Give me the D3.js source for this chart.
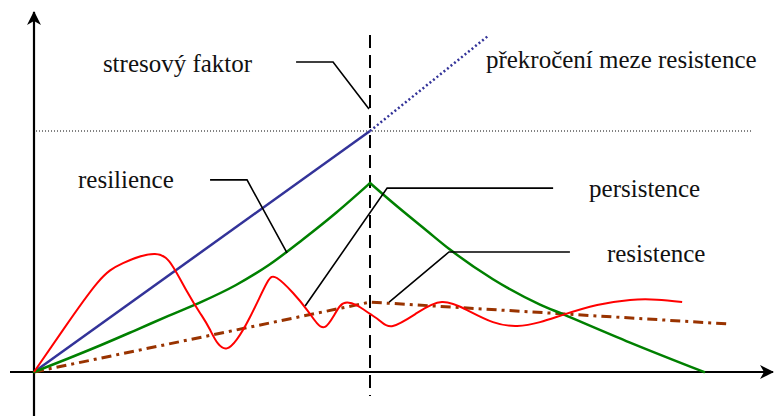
<!DOCTYPE html>
<html>
<head>
<meta charset="utf-8">
<script src="https://cdn.jsdelivr.net/npm/d3@7"></script>
<style>
  body { margin:0; background:#fff; }
</style>
</head>
<body>
<svg id="drawing_region"></svg>
<script>
// values in chart units: t = time, v = level (v = 10 is the resistance limit)
const stress = [[0,0],[10,10]];
const stressOver = [[10,10],[13.51,13.94]];
const limit = [[0.06,10],[21.37,10]];
const resilienceUp = [[0,0],[1,0.55],[2,1.12],[3,1.72],[4,2.33],[5,2.92],[6,3.6],[7,4.45],[8,5.5],[9,6.62],[10,7.84]];
const resilienceDown = [[10,7.84],[10.68,7.02],[11.7,5.85],[12.38,5.08],[13.66,3.85],[15.06,2.8],[15.74,2.4],[17.74,1.22],[19.94,0]];
const persistence = [[0,0],[0.86,1.74],[1.88,3.69],[2.65,4.52],[3.6,4.9],[4.14,4.36],[4.55,3.35],[4.94,2.45],[5.24,1.75],
  [5.74,0.98],[6.43,2.28],[6.93,3.69],[7.23,3.9],[7.71,3.28],[8.13,2.57],[8.42,2.03],[8.66,1.87],[8.9,2.28],[9.11,2.74],
  [9.32,2.88],[9.61,2.76],[10,2.41],[10.3,2.12],[10.68,1.91],[11.4,2.45],[12.14,2.9],[12.89,2.57],[13.66,2.07],
  [14.38,1.91],[15.06,2.07],[15.74,2.37],[16.76,2.78],[17.74,2.99],[18.54,3.0],[19.29,2.9]];
const resistence = [[0,0],[10,2.9],[20.71,1.99]];
const criticalT = 10;

const labels = ["stresový faktor","překročení meze resistence","resilience","persistence","resistence"];
const labelAt = [[2.05,12.45],[13.45,12.61],[1.31,7.63],[16.52,7.26],[17.05,4.56]];
const leaders = [
  [[7.8,12.86],[8.9,12.86],[9.97,10.91]],
  null,
  [[5.24,7.97],[6.34,7.97],[7.53,4.94]],
  [[15.45,7.63],[10.51,7.63],[8.07,2.74]],
  [[15.95,4.98],[12.35,4.98],[10.57,2.9]]
];

const width = 774, height = 416;
const svg = d3.select("#drawing_region").attr("width",width).attr("height",height);

const x = d3.scaleLinear().domain([0,10]).range([34,370]);
const y = d3.scaleLinear().domain([0,10]).range([372,131]);

const line = d3.line().x(d=>x(d[0])).y(d=>y(d[1]));
const curve = d3.line().x(d=>x(d[0])).y(d=>y(d[1])).curve(d3.curveMonotoneX);
const spline = d3.line().x(d=>x(d[0])).y(d=>y(d[1])).curve(d3.curveNatural);

svg.append("defs").append("marker")
  .attr("id","arrow")
  .attr("markerUnits","userSpaceOnUse")
  .attr("markerWidth",20).attr("markerHeight",20)
  .attr("viewBox","-16 -10 20 20")
  .attr("refX",0).attr("refY",0)
  .attr("orient","auto")
  .append("path")
  .attr("d","M1,0 L-13,-7 L-9,0 L-13,7 Z")
  .attr("fill","#000");

// axes
svg.append("path")
  .attr("d",line([[x.invert(10),0],[x.invert(773),0]]))
  .attr("stroke","#000").attr("stroke-width",2.2).attr("fill","none")
  .attr("marker-end","url(#arrow)");
svg.append("path")
  .attr("d",line([[0,y.invert(416)],[0,y.invert(12)]]))
  .attr("stroke","#000").attr("stroke-width",2.2).attr("fill","none")
  .attr("marker-end","url(#arrow)");

// resistance limit and critical moment
svg.append("path").attr("d",line(limit))
  .attr("stroke","#000").attr("stroke-width",1).attr("stroke-dasharray","1,2").attr("fill","none");
svg.append("path").attr("d",line([[criticalT,y.invert(35)],[criticalT,y.invert(396)]]))
  .attr("stroke","#000").attr("stroke-width",2).attr("stroke-dasharray","13,7").attr("fill","none");

// series
svg.append("path").attr("d",line(stress))
  .attr("stroke","#333399").attr("stroke-width",2.5).attr("fill","none");
svg.append("path").attr("d",line(stressOver))
  .attr("stroke","#333399").attr("stroke-width",2.5).attr("stroke-dasharray","2,2.5").attr("fill","none");

svg.append("path").attr("d",line(resistence))
  .attr("stroke","#993300").attr("stroke-width",3).attr("stroke-dasharray","10,5,3,5").attr("fill","none");

[resilienceUp,resilienceDown].forEach(seg=>{
  svg.append("path").attr("d",curve(seg))
    .attr("stroke","#008000").attr("stroke-width",2.5).attr("fill","none").attr("stroke-linecap","round");
});

svg.append("path").attr("d",spline(persistence))
  .attr("stroke","#ff0000").attr("stroke-width",2).attr("fill","none");

// leaders and labels
leaders.forEach(l=>{
  if(!l) return;
  svg.append("path").attr("d",line(l))
    .attr("stroke","#000").attr("stroke-width",1.6).attr("fill","none");
});

svg.selectAll("text.lbl")
  .data(labels)
  .enter()
  .append("text")
  .attr("class","lbl")
  .attr("x",(d,i)=>x(labelAt[i][0]))
  .attr("y",(d,i)=>y(labelAt[i][1]))
  .style("font-family",'"Liberation Serif", serif')
  .style("font-size","25px")
  .style("fill","#111")
  .text(d=>d);
</script>
</body>
</html>
